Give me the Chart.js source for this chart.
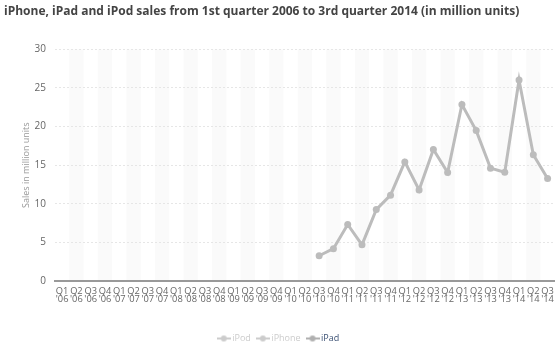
<!DOCTYPE html>
<html>
<head>
<meta charset="utf-8">
<script src="https://cdn.jsdelivr.net/npm/chart.js@4/dist/chart.umd.min.js"></script>
<style>
html,body{margin:0;padding:0;background:#fff;}
#wrap{width:560px;height:357px;position:relative;}
</style>
</head>
<body>
<div id="wrap"><canvas id="c" width="560" height="357"></canvas></div>
<script>
const quarters = [];
const years = ['06','07','08','09','10','11','12','13','14'];
const quarterNames = ['Q1','Q2','Q3','Q4'];
years.forEach(y => quarterNames.forEach(q => { if (!(y === '14' && q === 'Q4')) quarters.push([q, "'" + y]); }));

const seriesNames = ['iPod', 'iPhone', 'iPad'];
const ipodSales = [];
const iphoneSales = [];
const ipadSales = [
  null,null,null,null, null,null,null,null, null,null,null,null, null,null,null,null,
  null,null, 3.27, 4.19,
  7.33, 4.69, 9.25, 11.12,
  15.43, 11.8, 17.04, 14.04,
  22.86, 19.48, 14.62, 14.08,
  26.04, 16.35, 13.28
];
const yTicks = [0,5,10,15,20,25,30];

function markerCanvas(color){
  const c = document.createElement('canvas');
  c.width = 14; c.height = 8;
  const x = c.getContext('2d');
  x.strokeStyle = color; x.lineWidth = 2;
  x.beginPath(); x.moveTo(0,4); x.lineTo(14,4); x.stroke();
  x.fillStyle = color;
  x.beginPath(); x.arc(7,4,3,0,Math.PI*2); x.fill();
  return c;
}
const legendStyle = [
  {marker: markerCanvas('#cccccc'), text: '#cccccc'},
  {marker: markerCanvas('#cccccc'), text: '#cccccc'},
  {marker: markerCanvas('#b0b0b0'), text: '#3d5275'}
];

const bands = {
  id: 'bands',
  beforeDraw(chart){
    const {ctx, chartArea} = chart;
    const n = quarters.length;
    const w = (chartArea.right - chartArea.left) / n;
    ctx.save();
    ctx.fillStyle = '#fafafa';
    for (let i = 1; i < n; i += 2) {
      ctx.fillRect(chartArea.left + i*w, chartArea.top, w, chartArea.bottom - chartArea.top);
    }
    ctx.restore();
  }
};

new Chart(document.getElementById('c'), {
  type: 'line',
  data: {
    labels: quarters,
    datasets: [
      {label: seriesNames[0], data: ipodSales, hidden: true, borderColor:'#ccc'},
      {label: seriesNames[1], data: iphoneSales, hidden: true, borderColor:'#ccc'},
      {label: seriesNames[2], data: ipadSales, borderColor: '#bcbcbc', backgroundColor: '#bcbcbc',
       borderWidth: 3, pointRadius: 3.5, pointBackgroundColor: '#bcbcbc', pointBorderWidth: 0,
       tension: 0, spanGaps: false}
    ]
  },
  options: {
    responsive: false,
    animation: false,
    layout: {padding: {left: 4, right: 5, top: 0, bottom: 4}},
    plugins: {
      title: {
        display: true,
        text: 'iPhone, iPad and iPod sales from 1st quarter 2006 to 3rd quarter 2014 (in million units)',
        align: 'start',
        color: '#444',
        font: {family: 'Open Sans', size: 12, weight: 'bold'},
        padding: {top: 4, bottom: 31}
      },
      legend: {
        position: 'bottom',
        onClick: null,
        labels: {
          usePointStyle: true,
          font: {family: 'Open Sans', size: 9},
          padding: 8,
          boxWidth: 8,
          generateLabels(chart){
            return chart.data.datasets.map((d, i) => ({
              text: d.label,
              pointStyle: legendStyle[i].marker,
              fontColor: legendStyle[i].text,
              hidden: false,
              datasetIndex: i,
              lineWidth: 0,
              strokeStyle: 'transparent',
              fillStyle: 'transparent'
            }));
          }
        }
      },
      tooltip: {enabled: false}
    },
    scales: {
      x: {
        offset: true,
        grid: {display: false, drawTicks: false},
        border: {color: '#999', width: 2},
        ticks: {autoSkip: false, maxRotation: 0, minRotation: 0, color: '#666',
                font: {family: 'Open Sans', size: 9.3, lineHeight: 0.92}, padding: 6},
        afterFit(s){ s.height = 45; }
      },
      y: {
        min: 0, max: 30,
        afterBuildTicks(s){ s.ticks = yTicks.map(v => ({value: v})); },
        grid: {color: '#e6e6e6', drawTicks: false},
        border: {display: false, dash: [2,2]},
        ticks: {color: '#666', font: {family: 'Open Sans', size: 10}, padding: 9},
        title: {display: true, text: 'Sales in million units', color: '#999',
                font: {family: 'Open Sans', size: 9}, padding: {top: 17, bottom: 0}},
        afterFit(s){ s.width = 51; }
      }
    }
  },
  plugins: [bands]
});
</script>
</body>
</html>
